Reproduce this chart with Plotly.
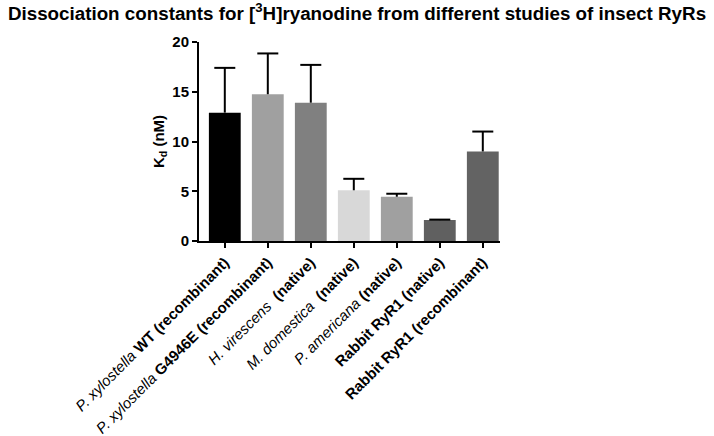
import plotly.graph_objects as go

categories = [
    "<i>P. xylostella</i> <b>WT (recombinant)</b>",
    "<i>P. xylostella</i> <b>G4946E (recombinant)</b>",
    "<i>H. virescens</i> <b> (native)</b>",
    "<i>M. domestica</i> <b> (native)</b>",
    "<i>P. americana</i> <b>(native)</b>",
    "<b>Rabbit RyR1 (native)</b>",
    "<b>Rabbit RyR1 (recombinant)</b>",
]
kd_values = [12.9, 14.75, 13.9, 5.1, 4.45, 2.1, 9.0]
kd_errors = [4.5, 4.1, 3.8, 1.15, 0.3, 0.05, 2.0]
bar_colors = ["#000000", "#a0a0a0", "#808080", "#d8d8d8", "#a0a0a0", "#606060", "#636363"]
y_ticks = [0, 5, 10, 15, 20]

fig = go.Figure()
fig.add_trace(go.Bar(
    x=categories, y=kd_values,
    marker=dict(color=bar_colors, line=dict(width=0)),
    width=0.74, showlegend=False, hoverinfo="x+y",
))

# upward-only error bars
ex, ey = [], []
for c, v, e in zip(categories, kd_values, kd_errors):
    ex += [c, c, None]
    ey += [v, v + e, None]
fig.add_trace(go.Scatter(
    x=ex, y=ey, mode="lines", line=dict(color="black", width=2),
    showlegend=False, hoverinfo="skip",
))
fig.add_trace(go.Scatter(
    x=categories, y=[v + e for v, e in zip(kd_values, kd_errors)],
    mode="markers",
    marker=dict(symbol="line-ew", size=15, line=dict(color="black", width=2)),
    showlegend=False, hoverinfo="skip",
))

fig.update_layout(
    width=714, height=436,
    margin=dict(l=199, r=214, t=42, b=195),
    paper_bgcolor="white", plot_bgcolor="white",
    font=dict(family="Liberation Sans, Arial, sans-serif", color="black"),
    title=dict(
        text="<b>Dissociation constants for [<sup>3</sup>H]ryanodine from different studies of insect RyRs</b>",
        x=0.5, xanchor="center", y=0.985, yanchor="top", automargin=False,
        font=dict(size=18.8, color="black"),
    ),
    xaxis=dict(
        type="category", range=[-0.6, 6.4], automargin=False,
        showline=True, linecolor="black", linewidth=2,
        ticks="outside", ticklen=5, tickwidth=2, tickcolor="black",
        tickangle=-45, tickfont=dict(size=15, color="black"),
        showgrid=False, zeroline=False,
    ),
    yaxis=dict(
        range=[0, 20], tickvals=y_ticks, ticktext=[str(t) for t in y_ticks],
        automargin=False,
        showline=True, linecolor="black", linewidth=2,
        ticks="outside", ticklen=5, tickwidth=2, tickcolor="black",
        tickfont=dict(size=15, color="black", weight="bold"),
        title=dict(text="K<sub>d</sub> (nM)", font=dict(size=15, color="black", weight="bold"), standoff=4),
        showgrid=False, zeroline=False,
    ),
)

fig.write_html("out.html", config={"displayModeBar": False},
               post_script="document.body.style.margin='0';")
